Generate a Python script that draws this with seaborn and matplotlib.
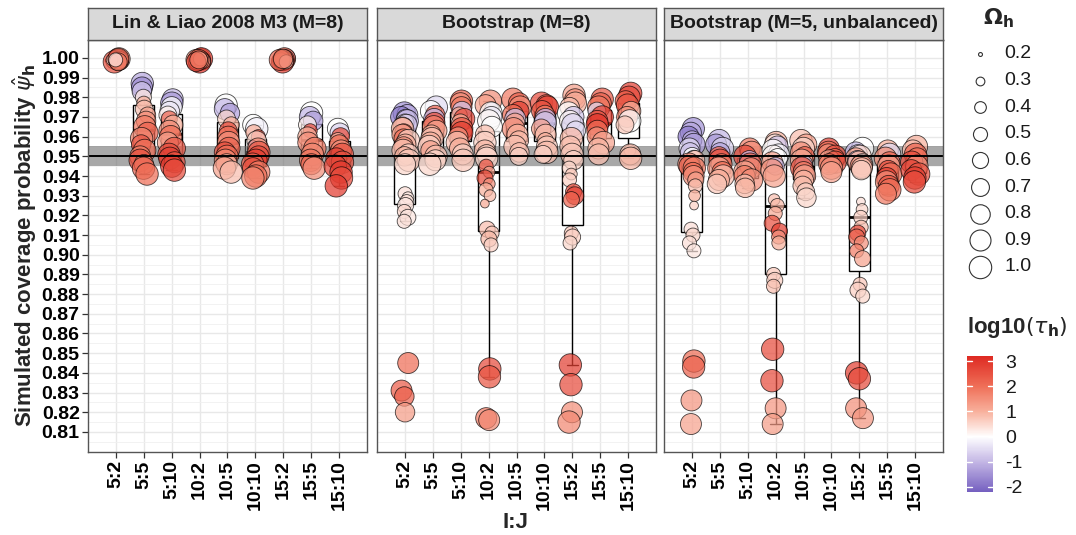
import numpy as np
import pandas as pd
import matplotlib
matplotlib.use("Agg")
import matplotlib.pyplot as plt
import seaborn as sns
from matplotlib.colors import LinearSegmentedColormap, Normalize
from matplotlib.colorbar import ColorbarBase

sns.set_theme(style="white")
plt.rcParams["font.family"] = ["Liberation Sans", "DejaVu Sans"]
plt.rcParams["mathtext.fontset"] = "dejavusans"

groups = ["5:2", "5:5", "5:10", "10:2", "10:5", "10:10", "15:2", "15:5", "15:10"]
panels = ["Lin & Liao 2008 M3 (M=8)", "Bootstrap (M=8)", "Bootstrap (M=5, unbalanced)"]

# ---------------- Panel 1: Lin & Liao 2008 M3 (M=8) ----------------
ll_psi = {
    "5:2": [1.000, 0.9995, 0.999, 0.9985, 0.998, 0.9985, 0.999, 0.9995, 0.998, 0.999],
    "5:5": [0.987, 0.985, 0.983, 0.980, 0.977, 0.974, 0.971, 0.968, 0.965, 0.962, 0.959, 0.956, 0.953, 0.950, 0.948, 0.946, 0.944, 0.941],
    "5:10": [0.979, 0.977, 0.975, 0.973, 0.971, 0.969, 0.966, 0.963, 0.960, 0.957, 0.954, 0.951, 0.949, 0.947, 0.945, 0.943],
    "10:2": [1.000, 0.9995, 0.999, 0.9985, 0.998, 0.9985, 0.999, 0.9995, 0.998, 0.999],
    "10:5": [0.976, 0.974, 0.972, 0.969, 0.966, 0.963, 0.960, 0.957, 0.954, 0.952, 0.950, 0.948, 0.946, 0.944, 0.942],
    "10:10": [0.966, 0.964, 0.962, 0.960, 0.958, 0.956, 0.954, 0.952, 0.950, 0.948, 0.946, 0.944, 0.942, 0.940, 0.939],
    "15:2": [1.000, 0.9995, 0.999, 0.9985, 0.998, 0.9985, 0.999, 0.998, 0.9995],
    "15:5": [0.972, 0.970, 0.968, 0.966, 0.963, 0.960, 0.957, 0.954, 0.951, 0.948, 0.946, 0.944],
    "15:10": [0.964, 0.962, 0.960, 0.958, 0.956, 0.953, 0.951, 0.949, 0.947, 0.945, 0.942, 0.939, 0.935],
}
ll_tau = {
    "5:2": [-1.5, 1.5, 2.0, 0.8, 2.5, 1.2, 0.5, 2.2, 1.8, 0.3],
    "5:5": [-1.2, -1.6, -0.8, 0.3, 1.0, 0.8, 1.2, 1.5, 1.8, 2.2, 1.6, 2.4, 2.0, 1.8, 2.5, 1.5, 2.2, 2.0],
    "5:10": [-1.0, -1.4, 0.0, -0.3, 0.2, 2.2, 1.0, 1.5, 2.0, 1.2, 2.4, 2.6, 2.8, 2.5, 2.9, 2.6],
    "10:2": [2.5, 2.8, 1.5, 2.2, 3.0, 1.0, 2.0, 0.5, 2.6, 1.8],
    "10:5": [0.0, -1.0, -1.3, 0.5, 1.0, 2.6, 2.0, 1.5, 2.2, 2.5, 2.0, 1.6, 1.0, 1.2, 0.8],
    "10:10": [0.0, -0.2, 1.0, 2.6, 0.5, -1.5, 1.5, 2.4, 2.6, 2.8, 2.2, 2.5, 1.8, 2.0, 1.6],
    "15:2": [-1.2, 2.0, 2.5, 1.5, 2.8, 1.0, 2.2, 0.6, 1.8],
    "15:5": [0.0, -1.0, -1.3, 0.2, 2.6, 1.0, 1.5, 1.8, 1.6, 1.9, 2.1, 1.5],
    "15:10": [0.0, -0.6, 2.6, 1.0, 2.0, 1.5, 2.5, 2.8, 2.5, 2.7, 2.9, 2.6, 2.9],
}
ll_omega = {
    "5:2": [0.7, 1.0, 0.9, 0.6, 1.0, 0.8, 0.4, 0.9, 0.7, 0.5],
    "5:5": [1.0, 0.9, 0.8, 0.6, 0.5, 0.7, 0.6, 0.8, 1.0, 0.9, 1.0, 0.8, 1.0, 0.9, 1.0, 0.8, 1.0, 1.0],
    "5:10": [0.9, 1.0, 0.9, 0.8, 0.7, 0.6, 0.8, 0.9, 1.0, 0.9, 1.0, 1.0, 1.0, 0.9, 1.0, 1.0],
    "10:2": [0.8, 1.0, 0.9, 0.7, 1.0, 0.6, 0.9, 0.5, 0.8, 0.7],
    "10:5": [1.0, 0.9, 0.8, 0.7, 0.6, 0.7, 0.9, 1.0, 1.0, 0.9, 1.0, 1.0, 0.9, 1.0, 1.0],
    "10:10": [0.9, 1.0, 0.6, 0.5, 0.8, 0.3, 0.9, 1.0, 0.9, 1.0, 1.0, 0.9, 1.0, 1.0, 1.0],
    "15:2": [0.7, 1.0, 0.9, 0.8, 1.0, 0.6, 0.9, 0.5, 0.8],
    "15:5": [1.0, 0.9, 0.8, 0.7, 0.5, 0.8, 0.9, 1.0, 1.0, 1.0, 0.9, 1.0],
    "15:10": [0.9, 0.8, 0.7, 0.6, 0.8, 0.9, 1.0, 0.9, 1.0, 1.0, 1.0, 1.0, 1.0],
}

# ---------------- Panel 2: Bootstrap (M=8) ----------------
b8_psi = {
    "5:2": [0.972, 0.971, 0.970, 0.969, 0.968, 0.967, 0.966, 0.965, 0.964, 0.962, 0.961, 0.959, 0.958, 0.956, 0.955, 0.953, 0.951, 0.950, 0.948, 0.946,
            0.931, 0.929, 0.927, 0.925, 0.922, 0.919, 0.917, 0.845, 0.831, 0.828, 0.820],
    "5:5": [0.975, 0.973, 0.971, 0.969, 0.967, 0.965, 0.963, 0.961, 0.959, 0.957, 0.955, 0.953, 0.950, 0.948, 0.946],
    "5:10": [0.978, 0.977, 0.975, 0.973, 0.971, 0.969, 0.967, 0.964, 0.962, 0.960, 0.957, 0.954, 0.951, 0.948],
    "10:2": [0.978, 0.976, 0.974, 0.972, 0.970, 0.968, 0.965, 0.961, 0.957, 0.953, 0.951, 0.949,
             0.945, 0.942, 0.939, 0.936, 0.933, 0.930, 0.926, 0.913, 0.911, 0.908, 0.905, 0.842, 0.838, 0.817, 0.816],
    "10:5": [0.979, 0.977, 0.975, 0.973, 0.971, 0.969, 0.967, 0.964, 0.961, 0.958, 0.955, 0.952, 0.950],
    "10:10": [0.977, 0.976, 0.975, 0.973, 0.971, 0.969, 0.967, 0.964, 0.961, 0.958, 0.955, 0.952, 0.951],
    "15:2": [0.981, 0.979, 0.977, 0.975, 0.972, 0.970, 0.968, 0.966, 0.963, 0.959, 0.955, 0.951, 0.948,
             0.944, 0.941, 0.938, 0.932, 0.930, 0.928, 0.911, 0.909, 0.906, 0.844, 0.834, 0.820, 0.815],
    "15:5": [0.979, 0.977, 0.975, 0.973, 0.970, 0.968, 0.966, 0.963, 0.960, 0.957, 0.954, 0.951],
    "15:10": [0.982, 0.980, 0.978, 0.976, 0.973, 0.970, 0.968, 0.966, 0.953, 0.951, 0.949],
}
b8_tau = {
    "5:2": [-1.5, -1.2, -1.8, -0.6, -1.0, 0.2, -0.8, 1.5, 0.8, 2.2, 1.2, 2.0, 0.6, 1.0, 1.5, 0.8, 0.6, 1.0, 0.7, 0.5,
            0.4, 0.3, 0.4, 0.3, 0.5, 0.3, 0.4, 2.0, 2.3, 2.2, 1.3],
    "5:5": [-0.5, 0.0, 2.2, -1.0, 2.5, 1.8, 1.2, 1.0, 0.8, 1.0, 0.6, 1.2, 0.8, 0.5, 0.5],
    "5:10": [2.2, 1.5, 1.8, -0.8, 1.2, 2.6, 1.0, 2.4, 2.8, 1.5, 0.8, 1.0, 0.6, 0.7],
    "10:2": [1.5, 1.2, -0.8, 0.0, -0.3, 0.1, 0.0, 0.8, 0.6, 0.9, 0.7, 0.5,
             2.5, 1.2, 2.6, 1.5, 1.0, 0.9, 1.1, 0.8, 0.7, 0.9, 0.6, 2.6, 2.4, 1.8, 1.6],
    "10:5": [1.8, 2.2, 1.5, 2.8, 2.0, -0.8, 1.2, 1.5, 1.0, 0.9, 0.8, 0.8, 0.6],
    "10:10": [2.6, 2.2, 2.8, 2.4, 1.8, -1.0, -0.8, 1.2, 0.9, 1.0, 0.7, 0.8, 0.6],
    "15:2": [1.2, 1.5, 1.0, 0.8, 0.0, -0.8, 0.1, -0.6, -0.5, 0.9, 0.8, 0.7, 0.6,
             0.5, 0.7, 0.6, 2.5, 2.8, 2.2, 0.7, 0.6, 0.5, 2.8, 2.6, 1.5, 1.6],
    "15:5": [2.4, 2.2, 1.8, -0.5, 2.8, 2.5, 3.0, 2.0, 1.5, 1.2, 0.9, 0.8],
    "15:10": [2.8, 2.6, 2.2, 2.4, 1.0, 1.5, 0.0, 0.7, 0.5, 0.8, 0.9],
}
b8_omega = {
    "5:2": [1.0, 0.9, 0.9, 0.8, 1.0, 0.7, 0.9, 0.8, 1.0, 0.7, 0.9, 0.8, 1.0, 0.9, 0.8, 1.0, 0.9, 0.8, 1.0, 0.9,
            0.5, 0.4, 0.5, 0.6, 0.5, 0.6, 0.5, 0.9, 0.9, 0.8, 0.8],
    "5:5": [1.0, 0.9, 0.8, 0.9, 0.9, 1.0, 0.9, 0.8, 1.0, 0.9, 1.0, 0.8, 1.0, 0.9, 1.0],
    "5:10": [1.0, 0.9, 0.9, 0.8, 0.6, 0.9, 0.7, 1.0, 1.0, 0.8, 1.0, 0.9, 0.9, 1.0],
    "10:2": [1.0, 0.9, 0.5, 1.0, 0.9, 1.0, 0.9, 0.8, 1.0, 0.9, 0.8, 1.0,
             0.5, 0.4, 0.6, 0.4, 0.5, 0.4, 0.3, 0.6, 0.5, 0.6, 0.5, 1.0, 1.0, 0.9, 0.9],
    "10:5": [1.0, 0.9, 1.0, 0.8, 0.9, 0.9, 0.8, 1.0, 0.9, 0.8, 1.0, 0.8, 0.7],
    "10:10": [1.0, 0.9, 1.0, 0.9, 0.8, 0.9, 1.0, 0.8, 0.9, 0.6, 0.9, 1.0, 0.7],
    "15:2": [1.0, 0.9, 1.0, 0.8, 1.0, 0.9, 0.9, 1.0, 0.8, 1.0, 0.9, 1.0, 0.8,
             0.5, 0.4, 0.5, 0.6, 0.7, 0.6, 0.5, 0.6, 0.5, 1.0, 1.0, 0.9, 1.0],
    "15:5": [1.0, 0.9, 1.0, 0.7, 1.0, 0.9, 1.0, 0.9, 0.8, 1.0, 0.9, 0.9],
    "15:10": [1.0, 1.0, 0.9, 1.0, 0.8, 0.9, 1.0, 0.7, 0.4, 0.9, 1.0],
}

# ---------------- Panel 3: Bootstrap (M=5, unbalanced) ----------------
b5_psi = {
    "5:2": [0.964, 0.962, 0.960, 0.958, 0.956, 0.954, 0.952, 0.950, 0.949, 0.948, 0.946, 0.945, 0.944, 0.942, 0.940, 0.938, 0.935,
            0.930, 0.925, 0.913, 0.910, 0.906, 0.902, 0.846, 0.843, 0.826, 0.814],
    "5:5": [0.958, 0.956, 0.954, 0.952, 0.950, 0.948, 0.946, 0.944, 0.942, 0.940, 0.938, 0.936],
    "5:10": [0.954, 0.952, 0.950, 0.948, 0.946, 0.944, 0.942, 0.940, 0.938, 0.936, 0.934],
    "10:2": [0.957, 0.956, 0.955, 0.953, 0.951, 0.950, 0.949, 0.947, 0.945, 0.943, 0.940,
             0.928, 0.925, 0.921, 0.916, 0.912, 0.909, 0.906, 0.890, 0.887, 0.884, 0.852, 0.836, 0.822, 0.814],
    "10:5": [0.958, 0.956, 0.954, 0.952, 0.950, 0.948, 0.946, 0.944, 0.942, 0.940, 0.938, 0.935, 0.932, 0.929],
    "10:10": [0.954, 0.952, 0.951, 0.950, 0.949, 0.948, 0.947, 0.946, 0.944, 0.942],
    "15:2": [0.954, 0.952, 0.951, 0.950, 0.949, 0.948, 0.947, 0.946, 0.945, 0.944, 0.943,
             0.927, 0.923, 0.919, 0.914, 0.911, 0.909, 0.906, 0.902, 0.898, 0.885, 0.882, 0.879, 0.840, 0.837, 0.822, 0.817],
    "15:5": [0.953, 0.951, 0.949, 0.947, 0.945, 0.943, 0.941, 0.939, 0.937, 0.935, 0.933, 0.931],
    "15:10": [0.955, 0.953, 0.951, 0.949, 0.947, 0.945, 0.943, 0.941, 0.939, 0.937],
}
b5_tau = {
    "5:2": [-1.5, -1.2, -1.8, -1.0, -1.4, -0.5, -0.8, 0.0, 0.2, 0.8, 1.5, 2.2, 1.8, 2.0, 1.5, 1.2, 0.8,
            1.0, 0.6, 0.4, 0.5, 0.4, 0.3, 2.0, 2.2, 1.4, 1.2],
    "5:5": [-1.0, -1.4, -0.6, -1.2, 2.2, 2.5, 1.8, 1.2, 2.0, 0.8, 1.0, 0.7],
    "5:10": [1.8, 1.5, 2.6, -1.0, 2.2, 1.6, 1.2, 1.8, 1.5, 0.8, 0.9],
    "10:2": [1.0, 0.3, -0.8, 0.0, -0.2, 0.1, 0.0, 1.2, -1.0, 1.5, 1.2,
             0.8, 0.9, 1.1, 2.5, 2.8, 1.5, 1.0, 0.7, 0.6, 0.8, 2.6, 2.6, 1.4, 1.3],
    "10:5": [0.8, 1.2, 0.5, 1.5, 2.2, 1.0, -0.8, 2.5, 1.8, 1.2, 0.9, 0.8, 0.6, 0.5],
    "10:10": [2.8, 2.0, 1.5, 2.6, 2.2, 1.2, 2.5, 1.8, 1.5, 1.2],
    "15:2": [0.0, -1.0, -0.5, 0.5, 1.2, -0.8, 1.0, 0.3, 1.5, 0.8, 0.6,
             0.4, 0.5, 0.6, 0.8, 2.6, 2.2, 1.5, 1.8, 1.2, 0.7, 0.6, 0.5, 2.8, 2.6, 1.5, 1.4],
    "15:5": [1.0, -0.5, 1.5, 2.2, 1.2, 2.6, 2.0, 2.8, 1.5, 2.4, 2.0, 1.8],
    "15:10": [1.0, 0.8, 2.2, 2.0, 2.6, 1.5, 2.8, 2.5, 2.8, 2.6],
}
b5_omega = {
    "5:2": [1.0, 0.9, 0.9, 0.8, 1.0, 0.9, 0.8, 0.7, 0.6, 0.8, 1.0, 0.9, 1.0, 0.8, 0.9, 0.6, 0.5,
            0.4, 0.3, 0.5, 0.5, 0.5, 0.5, 1.0, 1.0, 0.9, 0.9],
    "5:5": [1.0, 0.9, 1.0, 0.8, 0.8, 1.0, 0.9, 1.0, 0.9, 1.0, 0.9, 0.8],
    "5:10": [0.9, 1.0, 1.0, 0.8, 1.0, 0.9, 1.0, 0.9, 1.0, 0.8, 0.8],
    "10:2": [1.0, 0.9, 0.9, 1.0, 0.9, 1.0, 0.8, 0.9, 0.7, 1.0, 1.0,
             0.4, 0.5, 0.5, 0.6, 0.6, 0.5, 0.5, 0.5, 0.6, 0.5, 1.0, 1.0, 0.9, 0.9],
    "10:5": [1.0, 0.9, 1.0, 0.9, 0.8, 1.0, 0.7, 1.0, 0.9, 1.0, 0.8, 0.8, 0.7, 0.8],
    "10:10": [0.9, 1.0, 0.9, 1.0, 0.8, 0.9, 1.0, 0.9, 1.0, 0.9],
    "15:2": [1.0, 0.9, 0.8, 1.0, 0.9, 0.8, 1.0, 0.9, 1.0, 0.9, 0.8,
             0.3, 0.4, 0.5, 0.5, 0.6, 0.6, 0.5, 0.5, 0.6, 0.5, 0.6, 0.5, 1.0, 1.0, 0.9, 0.9],
    "15:5": [0.9, 1.0, 1.0, 0.9, 1.0, 0.8, 1.0, 0.9, 1.0, 0.9, 1.0, 0.9],
    "15:10": [1.0, 0.9, 1.0, 0.9, 1.0, 1.0, 0.9, 1.0, 1.0, 1.0],
}

size_levels = [0.2, 0.3, 0.4, 0.5, 0.6, 0.7, 0.8, 0.9, 1.0]
tau_ticks = [-2, -1, 0, 1, 2, 3]
ytick_vals = [0.81, 0.82, 0.83, 0.84, 0.85, 0.86, 0.87, 0.88, 0.89, 0.90,
              0.91, 0.92, 0.93, 0.94, 0.95, 0.96, 0.97, 0.98, 0.99, 1.00]

panel_data = [(ll_psi, ll_tau, ll_omega), (b8_psi, b8_tau, b8_omega), (b5_psi, b5_tau, b5_omega)]

rows = []
for pname, (pd_psi, pd_tau, pd_om) in zip(panels, panel_data):
    for g in groups:
        for v, t, o in zip(pd_psi[g], pd_tau[g], pd_om[g]):
            rows.append({"panel": pname, "grp": g, "psi": v, "tau": t, "omega": o})
df = pd.DataFrame(rows)
df["code"] = df["grp"].map({g: i for i, g in enumerate(groups)})
rng = np.random.default_rng(7)
df["xj"] = df["code"] + rng.uniform(-0.14, 0.14, len(df))

# colour scale (diverging: purple - white - red)
vmin, vmax = -2.2, 3.2
def f(v):
    return (v - vmin) / (vmax - vmin)
cmap = LinearSegmentedColormap.from_list(
    "tau",
    [(0.0, "#7560C0"), (f(-1), "#C4B7E5"), (f(0), "#FFFFFF"),
     (f(1), "#F8B09C"), (f(2), "#EF6F58"), (1.0, "#DE2A22")])
norm = Normalize(vmin, vmax)

smin, smax = 8, 260

W, H = 1076, 535
fig = plt.figure(figsize=(W / 100, H / 100), dpi=100)
fig.patch.set_facecolor("white")

panel_left = [88, 377, 664]
panel_w = 279
top_px, bot_px = 40, 452
strip_top = 8

for i, pname in enumerate(panels):
    ax = fig.add_axes([panel_left[i] / W, 1 - bot_px / H, panel_w / W, (bot_px - top_px) / H])
    sub = df[df["panel"] == pname]
    ax.set_axisbelow(True)
    sns.boxplot(data=sub, x="grp", y="psi", order=groups, ax=ax, color="white",
                linecolor="black", linewidth=1.0, width=0.75, showfliers=False,
                medianprops={"linewidth": 2.0}, zorder=2)
    ax.axhspan(0.945, 0.955, color="#6e6e6e", alpha=0.6, lw=0, zorder=2.5)
    sns.scatterplot(x=sub["xj"].values, y=sub["psi"].values, hue=sub["tau"].values,
                    size=sub["omega"].values, palette=cmap, hue_norm=norm,
                    sizes=(smin, smax), size_norm=(0.2, 1.0), alpha=0.72,
                    edgecolor="black", linewidth=0.6, legend=False, ax=ax, zorder=3)
    ax.axhline(0.95, color="black", lw=1.4, zorder=4)

    ax.set_xlim(-1, 9)
    ax.set_ylim(0.7998, 1.0091)
    ax.set_xticks(range(len(groups)))
    ax.set_xticklabels(groups, rotation=90, fontsize=14, fontweight="bold", color="black")
    ax.set_yticks(ytick_vals)
    ax.set_yticks([v + 0.005 for v in ytick_vals[:-1]] + [0.805], minor=True)
    if i == 0:
        ax.set_yticklabels([f"{v:.2f}" for v in ytick_vals], fontsize=14, fontweight="bold", color="black")
        ax.tick_params(axis="y", which="major", length=4, width=0.9, color="#333333", pad=2, left=True)
    else:
        ax.set_yticklabels([])
        ax.tick_params(axis="y", which="major", length=0)
    ax.tick_params(axis="y", which="minor", length=0)
    ax.tick_params(axis="x", length=4, width=0.9, color="#333333", pad=2, bottom=True)
    ax.set_xlabel("")
    ax.set_ylabel("")
    ax.grid(which="major", axis="both", color="#E8E8E8", lw=1.0)
    ax.grid(which="minor", axis="y", color="#F0F0F0", lw=0.6)
    for s in ax.spines.values():
        s.set_color("#555555")
        s.set_linewidth(1.0)
        s.set_zorder(6)

    # facet strip
    sax = fig.add_axes([panel_left[i] / W, 1 - top_px / H, panel_w / W, (top_px - strip_top) / H])
    sax.set_facecolor("#D9D9D9")
    sax.set_xticks([])
    sax.set_yticks([])
    for s in sax.spines.values():
        s.set_color("#555555")
        s.set_linewidth(1.0)
    sax.text(0.5, 0.5, pname, ha="center", va="center", fontsize=14, fontweight="bold",
             color="#1A1A1A", transform=sax.transAxes)

# axis titles
fig.text(25 / W, 1 - 246 / H, "Simulated coverage probability " + r"$\hat{\psi}_\mathbf{h}$",
         rotation=90, ha="center", va="center", fontsize=16, fontweight="bold")
fig.text(515 / W, 1 - 522 / H, "I:J", ha="center", va="center", fontsize=16, fontweight="bold")

# size legend
lax = fig.add_axes([0, 0, 1, 1], zorder=10)
lax.set_xlim(0, W)
lax.set_ylim(H, 0)
lax.axis("off")
fig.text(983 / W, 1 - 18 / H, r"$\mathbf{\Omega_h}$", ha="left", va="center", fontsize=16, fontweight="bold")
for k, lv in enumerate(size_levels):
    yy = 54 + k * 26.6
    s = smin + (lv - 0.2) / 0.8 * (smax - smin)
    lax.scatter([980], [yy], s=s, facecolor="white", edgecolor="#333333", linewidth=0.8)
    lax.text(1004, yy, f"{lv:.1f}", ha="left", va="center", fontsize=14, color="#1A1A1A")

# colour bar
fig.text(967 / W, 1 - 328 / H, "log10" + r"$(\tau_\mathbf{h})$", ha="left", va="center",
         fontsize=16, fontweight="bold")
cax = fig.add_axes([967 / W, 1 - 492 / H, 26 / W, (492 - 356) / H])
cb = ColorbarBase(cax, cmap=cmap, norm=norm, orientation="vertical")
cb.outline.set_visible(False)
cb.set_ticks(tau_ticks)
cb.set_ticklabels([str(t) for t in tau_ticks])
cax.tick_params(length=0, pad=9, labelsize=14, labelcolor="#1A1A1A")
for t in tau_ticks:
    cax.axhline(t, xmin=0, xmax=0.2, color="white", lw=1)
    cax.axhline(t, xmin=0.8, xmax=1, color="white", lw=1)

fig.savefig("out.png", dpi=100, facecolor="white")
